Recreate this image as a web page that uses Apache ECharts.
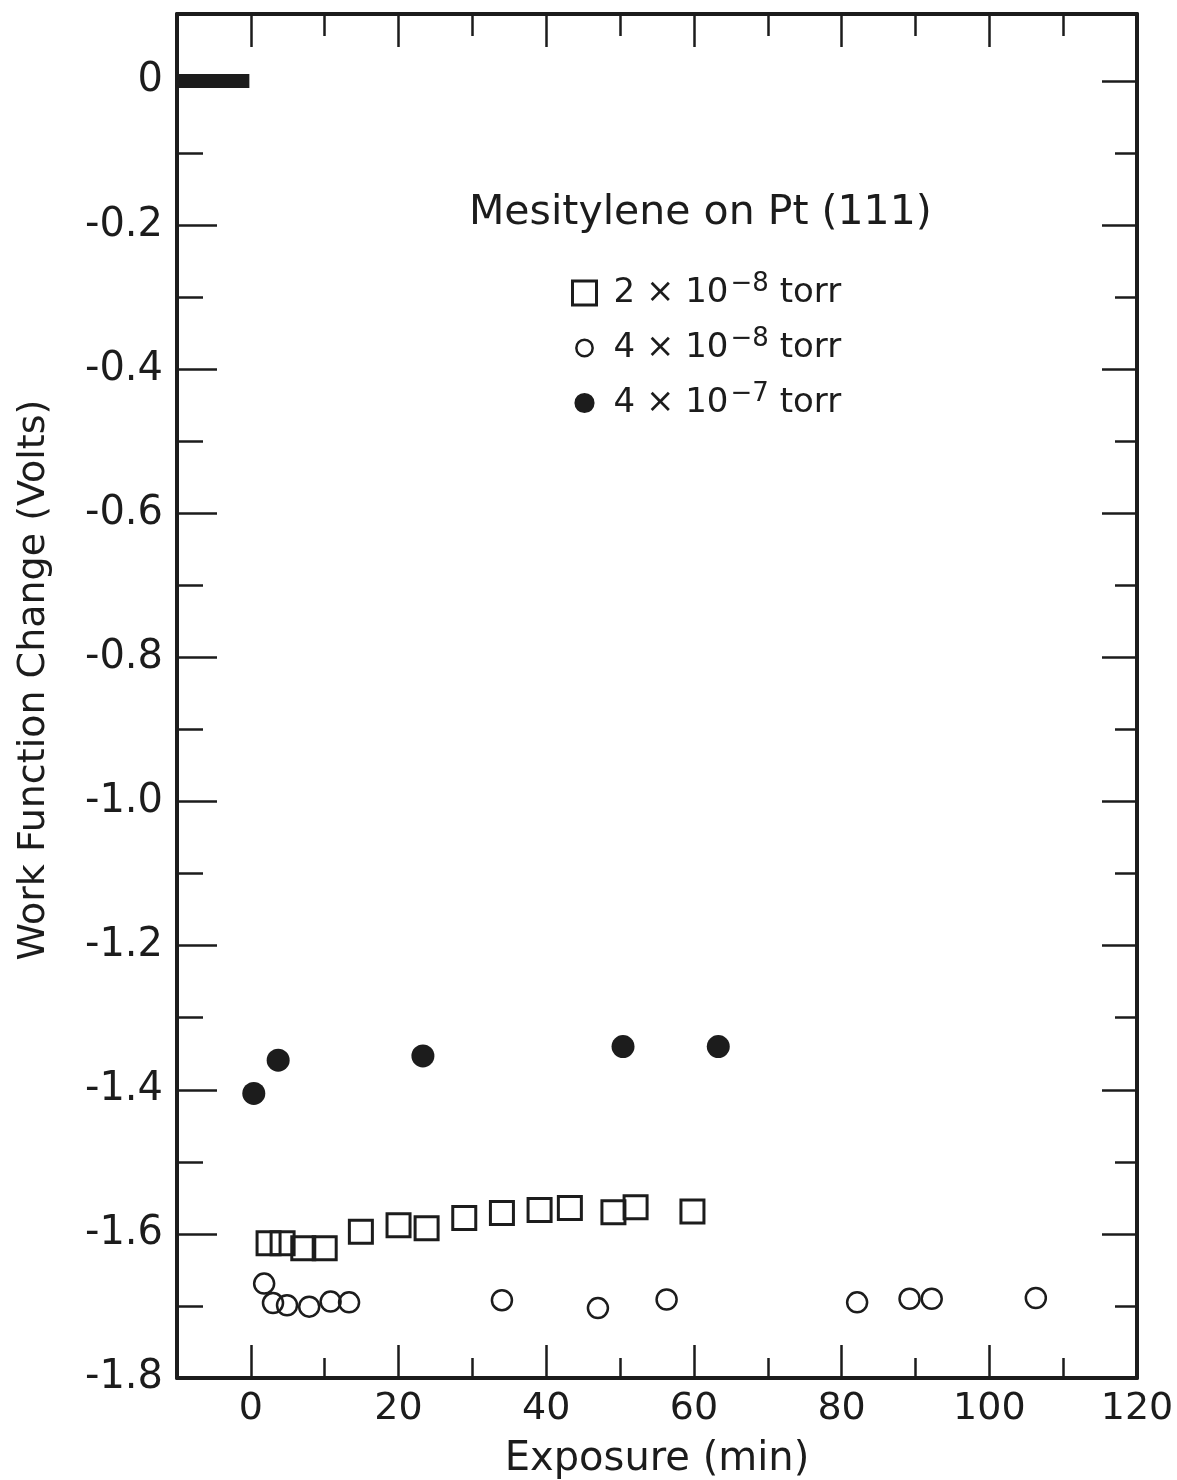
<!DOCTYPE html>
<html>
<head>
<meta charset="utf-8">
<title>Mesitylene on Pt (111)</title>
<script src="https://cdn.jsdelivr.net/npm/echarts@6/dist/echarts.min.js"></script>
<style>
  html, body { margin: 0; padding: 0; background: #ffffff; }
  #chart { width: 1177px; height: 1480px; }
</style>
</head>
<body>
<div id="chart"></div>
<script>
// Exposure (min) and work function change (V) for three mesitylene pressures
const sqX = [2.4, 4.3, 7.1, 10.0, 14.9, 20.0, 23.8, 28.9, 34.0, 39.1, 43.2, 49.1, 52.1, 59.8];
const sqY = [-1.613, -1.613, -1.620, -1.620, -1.597, -1.588, -1.592, -1.578, -1.571, -1.567, -1.564, -1.570, -1.563, -1.569];

const ocX = [1.8, 3.0, 4.9, 7.9, 10.8, 13.3, 34.0, 47.0, 56.3, 82.1, 89.2, 92.2, 106.3];
const ocY = [-1.669, -1.696, -1.699, -1.701, -1.694, -1.695, -1.692, -1.703, -1.691, -1.695, -1.690, -1.690, -1.689];

const fcX = [0.4, 3.7, 23.3, 50.4, 63.3];
const fcY = [-1.405, -1.359, -1.353, -1.340, -1.340];

// reference level bar at zero change, drawn along the left edge
const zeroBarX = [-10, -0.2];
const zeroBarY = [0, 0];

// axis ticks and labels
const xLabels = [0, 20, 40, 60, 80, 100, 120];
const xMajorTicks = [0, 20, 40, 60, 80, 100];
const xMinorTicks = [10, 30, 50, 70, 90, 110];
const yLabels = [-1.8, -1.6, -1.4, -1.2, -1.0, -0.8, -0.6, -0.4, -0.2, 0];
const yMajorTicks = [-1.6, -1.4, -1.2, -1.0, -0.8, -0.6, -0.4, -0.2, 0];
const yMinorTicks = [-1.7, -1.5, -1.3, -1.1, -0.9, -0.7, -0.5, -0.3, -0.1];

const seriesNames = ['2 × 10⁻⁸ torr', '4 × 10⁻⁸ torr', '4 × 10⁻⁷ torr'];
const legendRich = {
  '2 × 10⁻⁸ torr': '{a|2 × 10}{s|−8}{b| torr}',
  '4 × 10⁻⁸ torr': '{a|4 × 10}{s|−8}{b| torr}',
  '4 × 10⁻⁷ torr': '{a|4 × 10}{s|−7}{b| torr}'
};

const pairs = (xs, ys) => xs.map((x, i) => [x, ys[i]]);

const INK = '#1c1c1c';
const FONT = "'DejaVu Sans', 'Liberation Sans', sans-serif";

// legend glyphs: the leading moves keep a fixed 100x100 frame so the circles stay smaller than the square
const smallRing = 'path://M0,0 M100,100 M50,16 A34,34 0 1,1 49.99,16 Z';
const mediumDot = 'path://M0,0 M100,100 M50,8 A42,42 0 1,1 49.99,8 Z';

function tickAxis(base, extra) {
  return Object.assign({
    type: 'value',
    gridIndex: 0,
    splitLine: { show: false },
    axisLine: { show: false, onZero: false },
    axisLabel: { show: false },
    axisTick: { show: true, inside: true, lineStyle: { color: INK, width: 2.5 } }
  }, base, extra);
}

const xBase = { min: -10, max: 120 };
const yBase = { min: -1.8, max: 0.093 };

const chart = echarts.init(document.getElementById('chart'), null, { renderer: 'canvas' });

chart.setOption({
  backgroundColor: '#ffffff',
  animation: false,
  textStyle: { fontFamily: FONT, color: INK },
  title: {
    text: 'Mesitylene on Pt (111)',
    left: 464,
    top: 188,
    textStyle: { fontFamily: FONT, fontSize: 41, fontWeight: 'normal', color: INK }
  },
  legend: {
    orient: 'vertical',
    left: 566,
    top: 266,
    itemWidth: 24,
    itemHeight: 24,
    itemGap: 16,
    selectedMode: false,
    data: [
      { name: seriesNames[0], icon: 'rect', itemStyle: { color: 'rgba(0,0,0,0)', borderColor: INK, borderWidth: 3, opacity: 1 } },
      { name: seriesNames[1], icon: smallRing, itemStyle: { color: 'rgba(0,0,0,0)', borderColor: INK, borderWidth: 2.5, opacity: 1 } },
      { name: seriesNames[2], icon: mediumDot, itemStyle: { color: INK, borderWidth: 0, opacity: 1 } }
    ],
    formatter: name => legendRich[name],
    textStyle: {
      rich: {
        a: { fontFamily: FONT, fontSize: 34, color: INK, lineHeight: 44, padding: [0, 0, 0, 12] },
        b: { fontFamily: FONT, fontSize: 34, color: INK, lineHeight: 44 },
        s: { fontFamily: FONT, fontSize: 26, color: INK, verticalAlign: 'top', padding: [0, 0, 0, 2] }
      }
    }
  },
  grid: { left: 177, top: 14, width: 960, height: 1364, containLabel: false, outerBoundsMode: 'none' },
  xAxis: [
    tickAxis(xBase, {
      position: 'bottom',
      axisLine: { show: true, onZero: false, lineStyle: { color: INK, width: 4 } },
      axisTick: { show: true, inside: true, length: 33, customValues: xMajorTicks, lineStyle: { color: INK, width: 2.5 } },
      axisLabel: { show: true, customValues: xLabels, fontFamily: FONT, fontSize: 38, color: INK, margin: 12 },
      name: 'Exposure (min)',
      nameLocation: 'middle',
      nameGap: 62,
      nameTextStyle: { fontFamily: FONT, fontSize: 40, color: INK }
    }),
    tickAxis(xBase, {
      position: 'bottom',
      axisTick: { show: true, inside: true, length: 20, customValues: xMinorTicks, lineStyle: { color: INK, width: 2.5 } }
    }),
    tickAxis(xBase, {
      position: 'top',
      axisLine: { show: true, onZero: false, lineStyle: { color: INK, width: 4 } },
      axisTick: { show: true, inside: true, length: 33, customValues: xMajorTicks, lineStyle: { color: INK, width: 2.5 } }
    }),
    tickAxis(xBase, {
      position: 'top',
      axisTick: { show: true, inside: true, length: 22, customValues: xMinorTicks, lineStyle: { color: INK, width: 2.5 } }
    })
  ],
  yAxis: [
    tickAxis(yBase, {
      position: 'left',
      axisLine: { show: true, onZero: false, lineStyle: { color: INK, width: 4 } },
      axisTick: { show: true, inside: true, length: 40, customValues: yMajorTicks, lineStyle: { color: INK, width: 2.5 } },
      axisLabel: {
        show: true,
        customValues: yLabels,
        fontFamily: FONT,
        fontSize: 40,
        color: INK,
        margin: 14,
        formatter: v => (Math.abs(v) < 1e-9 ? '0' : '-' + Math.abs(v).toFixed(1))
      },
      name: 'Work Function Change (Volts)',
      nameLocation: 'middle',
      nameGap: 124,
      nameRotate: 90,
      nameTextStyle: { fontFamily: FONT, fontSize: 38, color: INK, padding: [0, 0, 0, 32] }
    }),
    tickAxis(yBase, {
      position: 'left',
      axisTick: { show: true, inside: true, length: 26, customValues: yMinorTicks, lineStyle: { color: INK, width: 2.5 } }
    }),
    tickAxis(yBase, {
      position: 'right',
      axisLine: { show: true, onZero: false, lineStyle: { color: INK, width: 4 } },
      axisTick: { show: true, inside: true, length: 35, customValues: yMajorTicks, lineStyle: { color: INK, width: 2.5 } }
    }),
    tickAxis(yBase, {
      position: 'right',
      axisTick: { show: true, inside: true, length: 22, customValues: yMinorTicks, lineStyle: { color: INK, width: 2.5 } }
    })
  ],
  series: [
    {
      name: 'zero',
      type: 'line',
      xAxisIndex: 0,
      yAxisIndex: 0,
      data: pairs(zeroBarX, zeroBarY),
      symbol: 'none',
      silent: true,
      lineStyle: { color: INK, width: 14, cap: 'butt' },
      z: 1
    },
    {
      name: seriesNames[0],
      type: 'scatter',
      xAxisIndex: 0,
      yAxisIndex: 0,
      data: pairs(sqX, sqY),
      symbol: 'rect',
      symbolSize: 23,
      itemStyle: { color: 'rgba(0,0,0,0)', borderColor: INK, borderWidth: 3, opacity: 1 },
      z: 3
    },
    {
      name: seriesNames[1],
      type: 'scatter',
      xAxisIndex: 0,
      yAxisIndex: 0,
      data: pairs(ocX, ocY),
      symbol: 'circle',
      symbolSize: 20,
      itemStyle: { color: 'rgba(0,0,0,0)', borderColor: INK, borderWidth: 2.5, opacity: 1 },
      z: 3
    },
    {
      name: seriesNames[2],
      type: 'scatter',
      xAxisIndex: 0,
      yAxisIndex: 0,
      data: pairs(fcX, fcY),
      symbol: 'circle',
      symbolSize: 23,
      itemStyle: { color: INK, opacity: 1 },
      z: 3
    }
  ]
});
</script>
</body>
</html>
